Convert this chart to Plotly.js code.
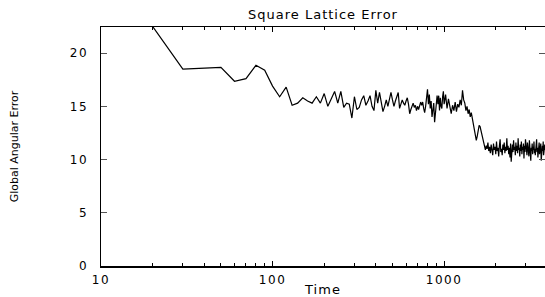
<!DOCTYPE html>
<html>
<head>
<meta charset="utf-8">
<script src="https://cdn.plot.ly/plotly-3.0.1.min.js"></script>
<style>
  html, body { margin: 0; padding: 0; background: #fff; }
  #chart { width: 545px; height: 297px; }
  .xtick text, .ytick text { letter-spacing: 1.5px; }
  .gtitle, .g-xtitle text { letter-spacing: 1px; }
</style>
</head>
<body>
<div id="chart"></div>
<script>
// Time (x) values
const timeA = [10,20,30,40,50,60,70,80,90,100,110,120,130,140,150,160,170,180,190,200,
  210,220,230,240,250,260,270,280,290,300,310];
const errorA = [35.0,22.5,18.5,18.6,18.65,17.35,17.6,18.85,18.4,16.9,15.9,16.8,15.1,15.3,15.8,15.5,15.3,15.9,15.3,16.2,
  15.0,15.7,16.4,15.3,16.4,14.9,15.3,15.2,13.9,15.9,14.7];

const timeB = [320,330,340,350,360,370,380,390,400,410,420,430,440,450,460,470,480,490,500,
  510,520,530,540,550,560,570,580,590,600,610,620,630,640,650,660,670,680,690,700,
  710,720,730,740,750,760,770,780,790,800,810,820,830,840,850,860,870,880,890,900,
  910,920,930,940,950,960,970,980,990,1000];
const errorB = [14.9,15.6,16.0,15.1,15.5,16.0,15.0,14.6,16.5,15.3,16.3,15.4,14.5,15.0,15.6,15.0,15.8,16.3,15.6,
  15.0,15.5,15.9,16.3,14.8,15.2,15.6,15.3,15.1,15.5,15.8,15.2,14.3,14.7,15.0,15.3,14.9,15.1,14.6,15.0,
  14.7,15.2,15.4,15.1,15.4,14.8,14.4,15.0,15.6,16.6,15.2,16.1,14.8,15.5,14.0,14.9,15.3,13.5,14.6,15.4,
  16.0,15.2,16.0,14.6,15.8,15.0,14.8,15.9,16.4,15.2];

const timeC = [1020,1040,1060,1080,1100,1120,1140,1160,1180,1200,1220,1240,1260,1280,1300,1320,1340,1360,1380,1400,
  1420,1440,1460,1480,1500,1520,1540,1560,1580,1600,1620,1640,1660,1680,1700,1720,1740,1760,1780,1800,
  1820,1840,1860,1880];
const errorC = [16.1,14.8,15.7,15.0,14.3,15.1,14.6,15.4,14.5,15.2,14.9,15.6,15.1,16.5,15.6,15.3,14.6,15.0,14.3,14.7,
  14.0,14.4,13.9,13.6,13.1,12.6,11.8,12.2,12.8,13.2,13.1,12.7,12.2,11.9,11.5,11.2,10.9,11.3,11.0,11.6,
  10.8,11.2,10.6,11.4];

const timeD = [1900,1920,1940,1960,1980,2000,2020,2040,2060,2080,2100,2120,2140,2160,2180,2200,2220,2240,2260,2280,
  2300,2320,2340,2360,2380,2400,2420,2440,2460,2480,2500,2520,2540,2560,2580,2600,2620,2640,2660,2680,
  2700,2720,2740,2760,2780,2800,2820,2840,2860,2880,2900,2920,2940,2960,2980,3000,3020,3040,3060,3080,
  3100,3120,3140,3160,3180,3200,3220,3240,3260,3280,3300,3320,3340,3360,3380,3400,3420,3440,3460,3480,
  3500,3520,3540,3560,3580,3600,3620,3640,3660,3680,3700,3720,3740,3760,3780,3800,3820,3840,3860,3880];
const errorD = [11.0,10.4,11.5,10.9,11.2,10.5,11.7,10.8,11.1,10.3,11.3,11.9,10.7,11.0,10.4,11.4,10.9,11.6,10.6,11.2,
  10.8,12.0,10.9,11.3,10.5,11.1,10.2,11.5,9.8,11.0,11.4,10.7,11.8,10.9,11.2,10.4,11.6,10.8,11.3,10.6,
  12.0,10.9,11.1,10.3,11.4,10.8,11.7,10.5,11.2,10.9,11.5,10.1,11.3,10.7,11.9,10.9,11.2,10.4,11.6,10.8,
  11.0,10.3,11.8,10.6,11.3,9.9,11.1,10.8,11.5,10.5,11.2,10.9,11.7,10.6,11.0,10.4,11.4,10.8,11.9,10.7,
  11.1,10.2,11.3,10.9,11.6,10.5,11.2,10.8,11.5,9.9,11.0,10.6,11.3,10.8,11.7,10.4,11.1,10.7,11.4,10.9];

const time = timeA.concat(timeB, timeC, timeD);
const error = errorA.concat(errorB, errorC, errorD);

const xMajorTicks = [10, 100, 1000];
const xMinorTicks = [20,30,40,50,60,70,80,90,200,300,400,500,600,700,800,900,2000,3000];
const yTicks = [0, 5, 10, 15, 20];

const trace = {
  x: time, y: error, type: 'scatter', mode: 'lines',
  line: { color: '#000000', width: 1.2 },
  hoverinfo: 'skip'
};

const tickFont = { family: 'DejaVu Sans', size: 12, color: '#000' };

const layout = {
  width: 545, height: 297,
  margin: { l: 101, r: 0, t: 27, b: 31, pad: 0 },
  paper_bgcolor: '#fff', plot_bgcolor: '#fff',
  showlegend: false,
  title: {
    text: 'Square Lattice Error',
    font: { family: 'DejaVu Sans', size: 13, color: '#000' },
    x: 0.5, xref: 'paper', xanchor: 'center',
    y: 0.953, yref: 'container', yanchor: 'middle'
  },
  xaxis: {
    type: 'log', range: [1, 3.588],
    tickmode: 'array', tickvals: xMajorTicks, ticktext: ['10', '100', '1000'],
    ticks: 'inside', ticklen: 5, tickwidth: 1, tickcolor: '#000',
    minor: { tickmode: 'array', tickvals: xMinorTicks, ticks: 'inside', ticklen: 3, tickwidth: 1, tickcolor: '#000', showgrid: false },
    showline: true, linecolor: '#000', linewidth: 1.5, mirror: 'ticks',
    showgrid: false, zeroline: false,
    tickfont: tickFont, ticklabelstandoff: 2,
    title: { text: 'Time', font: { family: 'DejaVu Sans', size: 13, color: '#000' }, standoff: 0 },
    automargin: false
  },
  yaxis: {
    range: [0, 22.45],
    tickmode: 'array', tickvals: yTicks,
    ticks: 'inside', ticklen: 6, tickwidth: 1, tickcolor: '#555',
    showline: true, linecolor: '#000', linewidth: 1.5, mirror: 'ticks',
    showgrid: false, zeroline: false,
    tickfont: tickFont, ticklabelstandoff: 9,
    title: { text: 'Global Angular Error', font: { family: 'DejaVu Sans', size: 11, color: '#000' }, standoff: 49 },
    automargin: false
  }
};

Plotly.newPlot('chart', [trace], layout, { displayModeBar: false, staticPlot: true });
</script>
</body>
</html>
